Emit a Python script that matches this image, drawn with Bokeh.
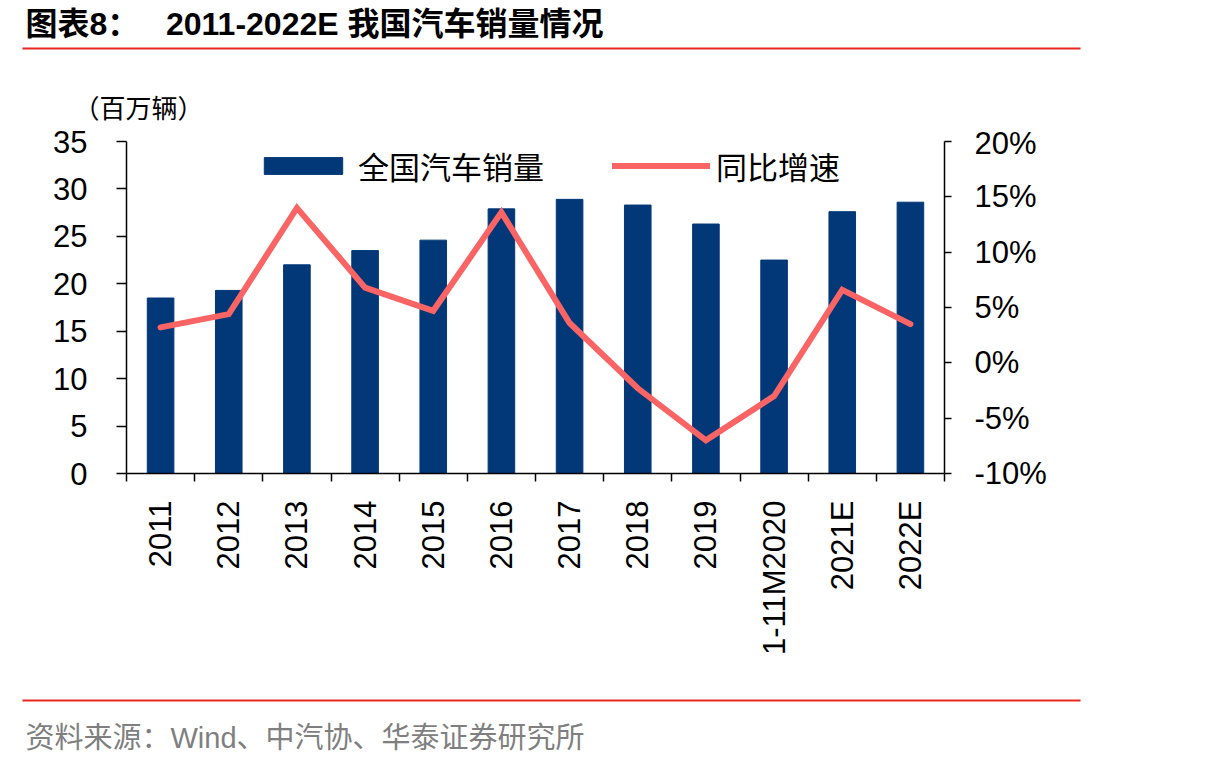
from math import pi

from bokeh.plotting import figure
from bokeh.layouts import column
from bokeh.models import (Range1d, LinearAxis, FixedTicker, Legend, LegendItem,
                          Label, BoxAnnotation, ColumnDataSource)
from bokeh.embed import file_html
from bokeh.resources import INLINE

# ---- data -------------------------------------------------------------
categories = ["2011", "2012", "2013", "2014", "2015", "2016", "2017",
              "2018", "2019", "1-11M2020", "2021E", "2022E"]
# national vehicle sales, million units
sales = [18.5, 19.3, 22.0, 23.5, 24.6, 27.9, 28.9, 28.3, 26.3, 22.5, 27.6, 28.6]
# year-on-year growth, %
growth = [3.2, 4.4, 14.0, 6.8, 4.7, 13.6, 3.6, -2.3, -7.0, -3.0, 6.6, 3.5]

left_ticks = [0, 5, 10, 15, 20, 25, 30, 35]
right_ticks = [-10, -5, 0, 5, 10, 15, 20]

BAR_COLOR = "#023878"
LINE_COLOR = "#FA6464"
RED = "#E8261E"
NUM_FONT = "Liberation Sans"
CJK_FONT = "Noto Sans CJK SC"
MIX_FONT = "Liberation Sans, Noto Sans CJK SC"
NBSP = "\u00a0"

W = 1210
HEAD_H, MAIN_H, FOOT_H = 125, 565, 78


def strip(height):
    """A plain, axis-less band whose data units are pixels (y grows downward)."""
    f = figure(width=W, height=height, x_range=Range1d(0, W), y_range=Range1d(height, 0),
               x_axis_type=None, y_axis_type=None, output_backend="svg",
               toolbar_location=None, min_border=0, frame_align=False)
    f.outline_line_color = None
    f.grid.visible = False
    return f


# ---- header: title, rule, unit ------------------------------------------
head = strip(HEAD_H)
head.add_layout(Label(x=25, y=23, text="图表8：" + NBSP * 3 + "2011-2022E 我国汽车销量情况",
                      text_font=MIX_FONT, text_font_size="32px",
                      text_font_style="bold", text_color="black",
                      text_baseline="middle", text_align="left"))
head.add_layout(BoxAnnotation(left=22, right=1080, top=47, bottom=49,
                              fill_color=RED, fill_alpha=1, line_color=None))
head.add_layout(Label(x=73, y=106, text="（百万辆）", text_font=CJK_FONT,
                      text_font_size="26px", text_color="black",
                      text_baseline="middle", text_align="left"))

# ---- main chart ---------------------------------------------------------
xs = list(range(len(categories)))
src = ColumnDataSource(dict(x=xs, sales=sales, growth=growth))

p = figure(width=W, height=MAIN_H,
           x_range=Range1d(-0.5, len(categories) - 0.5),
           y_range=Range1d(left_ticks[0], left_ticks[-1]),
           output_backend="svg", toolbar_location=None, frame_align=False,
           min_border_left=126, min_border_right=266,
           min_border_top=16, min_border_bottom=217)
p.outline_line_color = None
p.grid.visible = False
p.extra_y_ranges = {"pct": Range1d(right_ticks[0], right_ticks[-1])}

bars = p.vbar(x="x", top="sales", width=0.39, source=src,
              fill_color=BAR_COLOR, line_color=BAR_COLOR)
line = p.line(x="x", y="growth", source=src, y_range_name="pct",
              line_color=LINE_COLOR, line_width=6,
              line_join="miter", line_cap="round")

xa = p.xaxis[0]
xa.ticker = FixedTicker(ticks=xs, minor_ticks=[i - 0.5 for i in range(len(categories) + 1)])
xa.major_label_overrides = {i: c for i, c in enumerate(categories)}
xa.major_tick_out = 0
xa.major_tick_in = 0
xa.minor_tick_out = 8
xa.minor_tick_in = 0
xa.minor_tick_line_color = "black"
xa.minor_tick_line_width = 1.5
xa.axis_line_color = "black"
xa.axis_line_width = 1.5
xa.major_label_orientation = pi / 2
xa.major_label_standoff = 19
xa.major_label_text_font = NUM_FONT
xa.major_label_text_font_size = "31px"
xa.major_label_text_color = "black"

ya = p.yaxis[0]
ya.ticker = FixedTicker(ticks=left_ticks)
ya.major_tick_out = 10
ya.major_tick_in = 0
ya.major_tick_line_color = "black"
ya.major_tick_line_width = 1.5
ya.minor_tick_line_color = None
ya.axis_line_color = "black"
ya.axis_line_width = 1.5
ya.major_label_standoff = 29
ya.major_label_text_font = NUM_FONT
ya.major_label_text_font_size = "31px"
ya.major_label_text_color = "black"

ra = LinearAxis(y_range_name="pct", ticker=FixedTicker(ticks=right_ticks),
                major_label_overrides={t: f"{t}%" for t in right_ticks})
ra.major_tick_out = 7
ra.major_tick_in = 0
ra.major_tick_line_color = "black"
ra.major_tick_line_width = 1.5
ra.minor_tick_line_color = None
ra.axis_line_color = "black"
ra.axis_line_width = 1.5
ra.major_label_standoff = 23
ra.major_label_text_font = NUM_FONT
ra.major_label_text_font_size = "31px"
ra.major_label_text_color = "black"
p.add_layout(ra, "right")

legend = Legend(items=[LegendItem(label="全国汽车销量", renderers=[bars]),
                       LegendItem(label="同比增速", renderers=[line])],
                orientation="horizontal", location=(128, 285),
                glyph_width=98, glyph_height=21, label_standoff=6, spacing=68,
                padding=0, margin=0, border_line_color=None,
                background_fill_alpha=0,
                label_text_font=CJK_FONT, label_text_font_size="31px",
                label_text_color="black")
p.add_layout(legend)

# ---- footer: rule and source --------------------------------------------
foot = strip(FOOT_H)
foot.add_layout(BoxAnnotation(left=22, right=1080, top=9, bottom=11,
                              fill_color=RED, fill_alpha=1, line_color=None))
foot.add_layout(Label(x=25, y=47, text="资料来源：Wind、中汽协、华泰证券研究所",
                      text_font=MIX_FONT, text_font_size="29px",
                      text_color="#7F7F7F",
                      text_baseline="middle", text_align="left"))

page = column(head, p, foot, spacing=0)
open("out.html", "w").write(file_html(page, INLINE))
